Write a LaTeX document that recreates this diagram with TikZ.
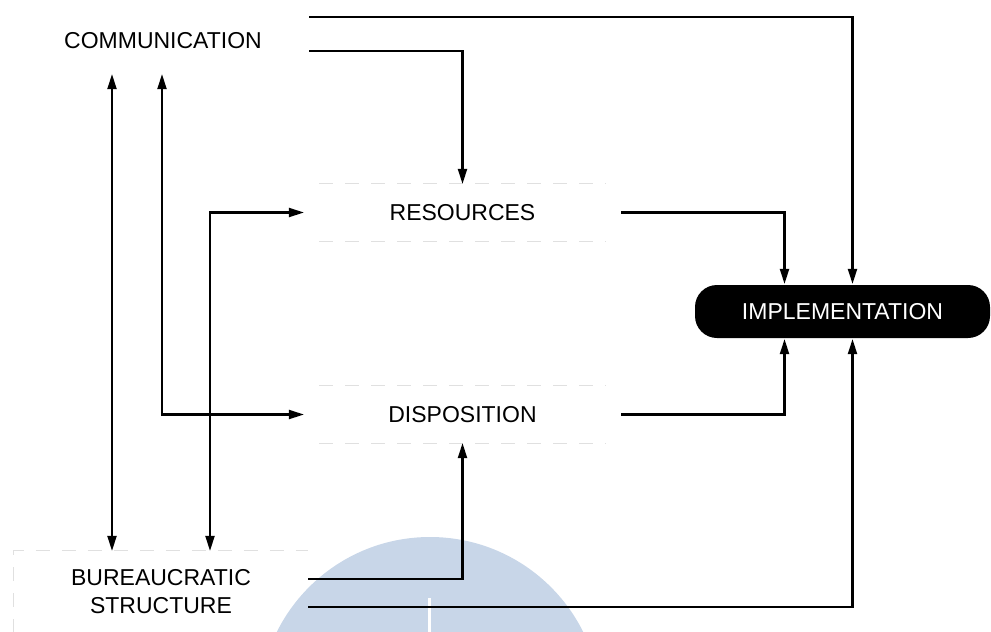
\documentclass[tikz,border=0pt]{standalone}
\usepackage{fontspec}
\setmainfont{Liberation Sans}
\usetikzlibrary{arrows.meta}
\definecolor{wmblue}{RGB}{200,214,232}

\begin{document}
\begin{tikzpicture}[x=1pt, y=-1pt, line width=2.2pt,
    arr/.style={-{Triangle[length=15pt,width=9pt]}},
    darr/.style={{Triangle[length=15pt,width=9pt]}-{Triangle[length=15pt,width=9pt]}},
    lbl/.style={font=\fontsize{23}{28}\selectfont, align=center, inner sep=0pt},
    faint/.style={draw=black!12, line width=1pt, dash pattern=on 14pt off 12pt}]

  \useasboundingbox (0,0) rectangle (991,632);

  % watermark at the bottom
  \begin{scope}
    \clip (0,0) rectangle (991,632);
    \fill[wmblue] (430,708) circle (171pt);
    \draw[white, line width=3pt] (429,598) -- (429,632);
  \end{scope}

  \node[lbl, minimum width=290pt, minimum height=65pt] (comm) at (163,40.5) {COMMUNICATION};
  \node[lbl, minimum width=315pt, minimum height=55pt] (res) at (462.5,212.5) {RESOURCES};
  \node[lbl, minimum width=315pt, minimum height=55pt] (disp) at (462.5,414.5) {DISPOSITION};
  \node[lbl, minimum width=292pt, minimum height=80pt] (bur) at (161,592) {BUREAUCRATIC\\STRUCTURE};
  \node[lbl, fill=black, text=white, rounded corners=22pt,
        minimum width=295pt, minimum height=53pt] (impl) at (842.5,311.5) {IMPLEMENTATION};

  % faint box edges
  \draw[faint] ([xshift=15pt]res.north west) -- ([xshift=-15pt]res.north east);
  \draw[faint] ([xshift=15pt]res.south west) -- ([xshift=-15pt]res.south east);
  \draw[faint] ([xshift=15pt]disp.north west) -- ([xshift=-15pt]disp.north east);
  \draw[faint] ([xshift=15pt]disp.south west) -- ([xshift=-15pt]disp.south east);
  \draw[faint] (bur.south west) -- (bur.north west) -- (bur.north east);

  \coordinate (ya) at (0,17);
  \coordinate (yb) at (0,51);
  \coordinate (yc) at (0,579);
  \coordinate (yd) at (0,607);
  \coordinate (xa) at (112,0);
  \coordinate (xb) at (162,0);
  \coordinate (xc) at (210,0);

  \draw[arr] (comm.east |- ya) -| ([xshift=10pt]impl.north);
  \draw[arr] (comm.east |- yb) -| (res.north);
  \draw[arr] (res.east) -| ([xshift=-58pt]impl.north);
  \draw[arr] (disp.east) -| ([xshift=-58pt]impl.south);
  \draw[arr] (bur.east |- yc) -| (disp.south);
  \draw[arr] (bur.east |- yd) -| ([xshift=10pt]impl.south);
  \draw[darr] (comm.south -| xa) -- (bur.north -| xa);
  \draw[darr] (comm.south -| xb) |- (disp.west);
  \draw[darr] (bur.north -| xc) |- (res.west);
\end{tikzpicture}
\end{document}
